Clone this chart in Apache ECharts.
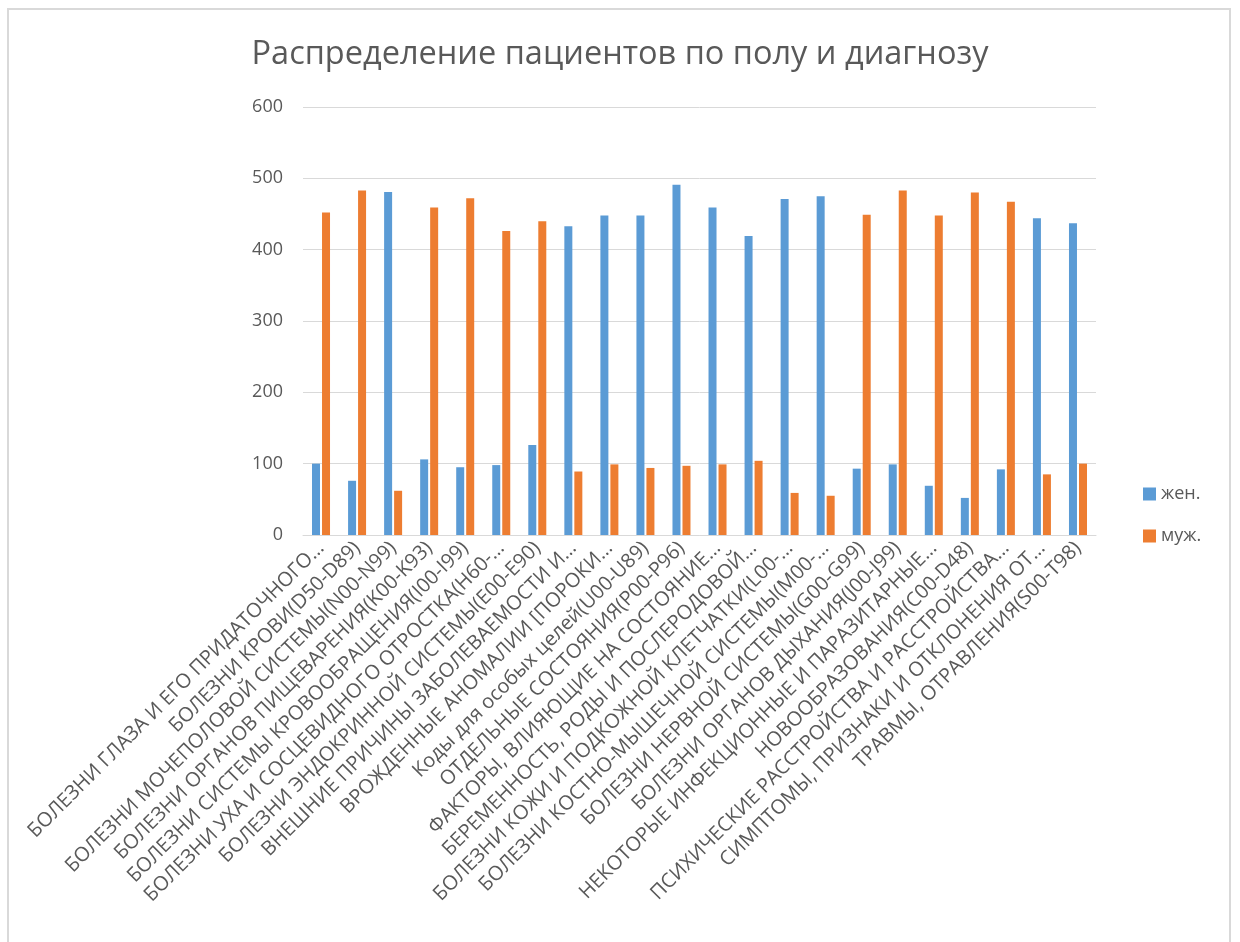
<!DOCTYPE html>
<html>
<head>
<meta charset="utf-8">
<script src="https://cdn.jsdelivr.net/npm/echarts@6/dist/echarts.min.js"></script>
<style>
  html, body { margin: 0; padding: 0; background: #fff; }
  #frame { position: absolute; left: 7px; top: 8px; width: 1224px; height: 960px;
           border: 2px solid #d9d9d9; box-sizing: border-box; }
  #chart { position: absolute; left: 0; top: 0; width: 1240px; height: 942px; }
</style>
</head>
<body>
<div id="frame"></div>
<div id="chart"></div>
<script>
// Диагнозы (подписи как в исходной таблице, с усечением)
const categories = [
  'БОЛЕЗНИ ГЛАЗА И ЕГО ПРИДАТОЧНОГО…',
  'БОЛЕЗНИ КРОВИ(D50-D89)',
  'БОЛЕЗНИ МОЧЕПОЛОВОЙ СИСТЕМЫ(N00-N99)',
  'БОЛЕЗНИ ОРГАНОВ ПИЩЕВАРЕНИЯ(K00-K93)',
  'БОЛЕЗНИ СИСТЕМЫ КРОВООБРАЩЕНИЯ(I00-I99)',
  'БОЛЕЗНИ УХА И СОСЦЕВИДНОГО ОТРОСТКА(H60-…',
  'БОЛЕЗНИ ЭНДОКРИННОЙ СИСТЕМЫ(E00-E90)',
  'ВНЕШНИЕ ПРИЧИНЫ ЗАБОЛЕВАЕМОСТИ И…',
  'ВРОЖДЕННЫЕ АНОМАЛИИ [ПОРОКИ…',
  'Коды для особых целей(U00-U89)',
  'ОТДЕЛЬНЫЕ СОСТОЯНИЯ(P00-P96)',
  'ФАКТОРЫ, ВЛИЯЮЩИЕ НА СОСТОЯНИЕ…',
  'БЕРЕМЕННОСТЬ, РОДЫ И ПОСЛЕРОДОВОЙ…',
  'БОЛЕЗНИ КОЖИ И ПОДКОЖНОЙ КЛЕТЧАТКИ(L00-…',
  'БОЛЕЗНИ КОСТНО-МЫШЕЧНОЙ СИСТЕМЫ(M00-…',
  'БОЛЕЗНИ НЕРВНОЙ СИСТЕМЫ(G00-G99)',
  'БОЛЕЗНИ ОРГАНОВ ДЫХАНИЯ(J00-J99)',
  'НЕКОТОРЫЕ ИНФЕКЦИОННЫЕ И ПАРАЗИТАРНЫЕ…',
  'НОВООБРАЗОВАНИЯ(C00-D48)',
  'ПСИХИЧЕСКИЕ РАССТРОЙСТВА И РАССТРОЙСТВА…',
  'СИМПТОМЫ, ПРИЗНАКИ И ОТКЛОНЕНИЯ ОТ…',
  'ТРАВМЫ, ОТРАВЛЕНИЯ(S00-T98)'
];

// Число пациентов по полу
const female = [100, 76, 481, 106, 95, 98, 126, 433, 448, 448, 491,
                459, 419, 471, 475, 93, 99, 69, 52, 92, 444, 437];
const male   = [452, 483, 62, 459, 472, 426, 440, 89, 99, 94, 97,
                99, 104, 59, 55, 449, 483, 448, 480, 467, 85, 100];

const seriesNames = ['жен.', 'муж.'];
const yTicks = { min: 0, max: 600, interval: 100 };

const FONT = '"Open Sans", "Noto Sans", sans-serif';
const TEXT = '#595959';

const chart = echarts.init(document.getElementById('chart'), null, { renderer: 'canvas' });
chart.setOption({
  animation: false,
  backgroundColor: 'transparent',
  title: {
    text: 'Распределение пациентов по полу и диагнозу',
    left: 'center',
    top: 33,
    textStyle: { fontFamily: FONT, fontSize: 32.5, fontWeight: 'normal', color: TEXT }
  },
  legend: {
    orient: 'vertical',
    left: 1138,
    top: 480,
    itemWidth: 13,
    itemHeight: 13,
    itemGap: 24,
    icon: 'rect',
    textStyle: { fontFamily: FONT, fontSize: 18, color: TEXT },
    data: seriesNames
  },
  grid: { left: 303, right: 144, top: 107, bottom: 407, containLabel: false },
  xAxis: {
    type: 'category',
    data: categories,
    axisLine: { lineStyle: { color: '#d9d9d9', width: 1 } },
    axisTick: { show: false },
    axisLabel: {
      interval: 0,
      rotate: 45,
      margin: 10,
      fontFamily: FONT,
      fontSize: 20,
      color: TEXT
    }
  },
  yAxis: {
    type: 'value',
    min: yTicks.min,
    max: yTicks.max,
    interval: yTicks.interval,
    axisLine: { show: false },
    axisTick: { show: false },
    axisLabel: { fontFamily: FONT, fontSize: 18, color: TEXT, margin: 20 },
    splitLine: { lineStyle: { color: '#d9d9d9', width: 1 } }
  },
  series: [
    {
      name: seriesNames[0],
      type: 'bar',
      data: female,
      barWidth: 8,
      barGap: '25%',
      itemStyle: { color: '#5B9BD5' }
    },
    {
      name: seriesNames[1],
      type: 'bar',
      data: male,
      barWidth: 8,
      barGap: '25%',
      itemStyle: { color: '#ED7D31' }
    }
  ]
});
</script>
</body>
</html>
